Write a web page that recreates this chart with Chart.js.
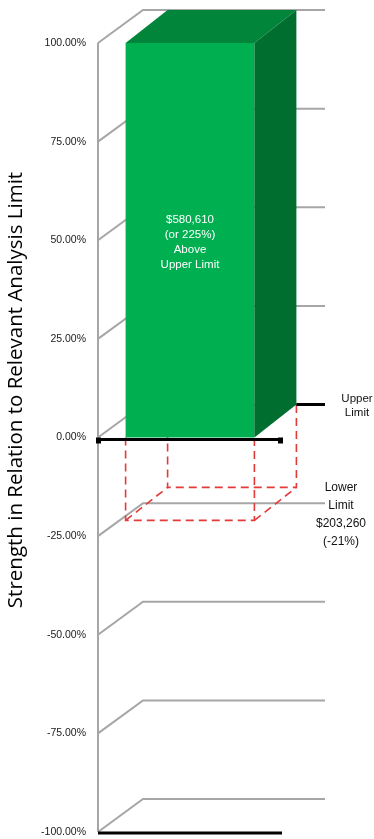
<!DOCTYPE html>
<html>
<head>
<meta charset="utf-8">
<script src="https://cdn.jsdelivr.net/npm/chart.js@4.4.1/dist/chart.umd.min.js"></script>
<style>
  html, body { margin: 0; padding: 0; background: #fff; }
  #wrap { width: 374px; height: 839px; }
</style>
</head>
<body>
<div id="wrap"><canvas id="strength-chart" width="374" height="839"></canvas></div>
<script>
const categories = ['Strength'];
const strengthValues = [225];     // % above the upper limit
const upperLimitValues = [0];
const lowerLimitValues = [-21];
const tickValues = [100, 75, 50, 25, 0, -25, -50, -75, -100];
const barLabelLines = ['$580,610', '(or 225%)', 'Above', 'Upper Limit'];
const upperLabelLines = ['Upper', 'Limit'];
const lowerLabelLines = ['Lower', 'Limit', '$203,260', '(-21%)'];
const axisTitle = 'Strength in Relation to Relevant Analysis Limit';

const WALL_DX = 45, DEPTH_Y = 33, BAR_DX = 42;
const FONT = '"Liberation Sans", Arial, sans-serif';

function line(ctx, pts) {
    ctx.beginPath();
    ctx.moveTo(pts[0][0], pts[0][1]);
    for (let i = 1; i < pts.length; i++) ctx.lineTo(pts[i][0], pts[i][1]);
    ctx.stroke();
}

function poly(ctx, pts, color) {
    ctx.beginPath();
    ctx.moveTo(pts[0][0], pts[0][1]);
    for (let i = 1; i < pts.length; i++) ctx.lineTo(pts[i][0], pts[i][1]);
    ctx.closePath();
    ctx.fillStyle = color;
    ctx.fill();
}

function textLines(ctx, lines, x, y, step) {
    lines.forEach((t, i) => ctx.fillText(t, x, y + i * step));
}

// fake 3d walls, bar faces and limit markers
const depthPlugin = {
    id: 'depth',
    beforeDatasetsDraw(chart) {
        const {ctx, chartArea, scales: {y}} = chart;
        const left = chartArea.left, right = chartArea.right;
        ctx.save();
        ctx.strokeStyle = '#a6a6a6';
        ctx.lineWidth = 2;
        tickValues.forEach(v => {
            const py = y.getPixelForValue(v);
            line(ctx, [[left, py], [left + WALL_DX, py - DEPTH_Y], [right + 43, py - DEPTH_Y]]);
        });
        line(ctx, [[left, y.getPixelForValue(100)], [left, y.getPixelForValue(-100)]]);

        // lower limit box
        const bar = chart.getDatasetMeta(0).data[0];
        const x0 = bar.x - bar.width / 2, x1 = bar.x + bar.width / 2;
        const y0 = y.getPixelForValue(upperLimitValues[0]);
        const yl = y.getPixelForValue(lowerLimitValues[0]);
        ctx.strokeStyle = '#e23b3b';
        ctx.lineWidth = 1.6;
        ctx.setLineDash([8, 5]);
        line(ctx, [[x0, y0], [x0, yl], [x1, yl], [x1, y0]]);
        line(ctx, [[x0 + BAR_DX, y0 - DEPTH_Y], [x0 + BAR_DX, yl - DEPTH_Y], [x1 + BAR_DX, yl - DEPTH_Y], [x1 + BAR_DX, y0 - DEPTH_Y]]);
        line(ctx, [[x0, yl], [x0 + BAR_DX, yl - DEPTH_Y]]);
        line(ctx, [[x1, yl], [x1 + BAR_DX, yl - DEPTH_Y]]);
        ctx.restore();
    },
    afterDatasetsDraw(chart) {
        const {ctx, chartArea, scales: {y}} = chart;
        const left = chartArea.left, right = chartArea.right;
        const bar = chart.getDatasetMeta(0).data[0];
        const x0 = bar.x - bar.width / 2, x1 = bar.x + bar.width / 2;
        const top = Math.max(bar.y, chartArea.top);
        const base = bar.base;
        ctx.save();
        poly(ctx, [[x0, top], [x0 + BAR_DX, top - DEPTH_Y], [x1 + BAR_DX, top - DEPTH_Y], [x1, top]], '#00853b');
        poly(ctx, [[x1, top], [x1 + BAR_DX, top - DEPTH_Y], [x1 + BAR_DX, base - DEPTH_Y], [x1, base]], '#006e2f');

        ctx.fillStyle = '#ffffff';
        ctx.font = '11.5px ' + FONT;
        ctx.textAlign = 'center';
        ctx.textBaseline = 'middle';
        textLines(ctx, barLabelLines, bar.x, (top + base) / 2 - 20, 15);

        // zero floor and bottom floor
        const y0 = y.getPixelForValue(upperLimitValues[0]);
        ctx.strokeStyle = '#000';
        ctx.fillStyle = '#000';
        ctx.lineWidth = 3;
        line(ctx, [[left - 1, y0 + 2], [right, y0 + 2]]);
        ctx.fillRect(left - 2, y0, 5, 6);
        ctx.fillRect(right - 4, y0, 5, 6);
        const yb = y.getPixelForValue(-100);
        line(ctx, [[left, yb + 1], [right, yb + 1]]);
        // upper limit marker on the back wall
        line(ctx, [[x1 + BAR_DX, y0 - DEPTH_Y], [right + 43, y0 - DEPTH_Y]]);

        ctx.fillStyle = '#111';
        ctx.font = '11.5px ' + FONT;
        textLines(ctx, upperLabelLines, right + 75, y0 - DEPTH_Y - 6, 14);
        const yl = y.getPixelForValue(lowerLimitValues[0]);
        ctx.font = '12px ' + FONT;
        textLines(ctx, lowerLabelLines, right + 59, yl - DEPTH_Y, 18);

        ctx.translate(16, 390);
        ctx.rotate(-Math.PI / 2);
        ctx.font = '20.5px "Open Sans", sans-serif';
        ctx.fillStyle = '#000';
        ctx.fillText(axisTitle, 0, 0);
        ctx.restore();
    }
};

const canvas = document.querySelector('#strength-chart');

new Chart(canvas.getContext('2d'), {
    type: 'bar',
    data: {
        labels: categories,
        datasets: [{
            label: 'Strength',
            data: strengthValues,
            backgroundColor: '#00b050',
            borderWidth: 0,
            barPercentage: 0.7,
            categoryPercentage: 1
        }]
    },
    options: {
        responsive: false,
        animation: false,
        devicePixelRatio: 1,
        layout: { padding: { top: 43, bottom: 7, left: 0, right: 92 } },
        plugins: { legend: { display: false }, tooltip: { enabled: false } },
        scales: {
            x: { display: false },
            y: {
                min: -100,
                max: 100,
                afterFit(scale) {
                    scale.width = 98;
                    scale.paddingTop = 0;
                    scale.paddingBottom = 0;
                },
                grid: { display: false, drawTicks: false },
                border: { display: false },
                ticks: {
                    stepSize: 25,
                    padding: 12,
                    color: '#1a1a1a',
                    font: { family: FONT, size: 10.5 },
                    callback: v => v.toFixed(2) + '%'
                }
            }
        }
    },
    plugins: [depthPlugin]
});
</script>
</body>
</html>
